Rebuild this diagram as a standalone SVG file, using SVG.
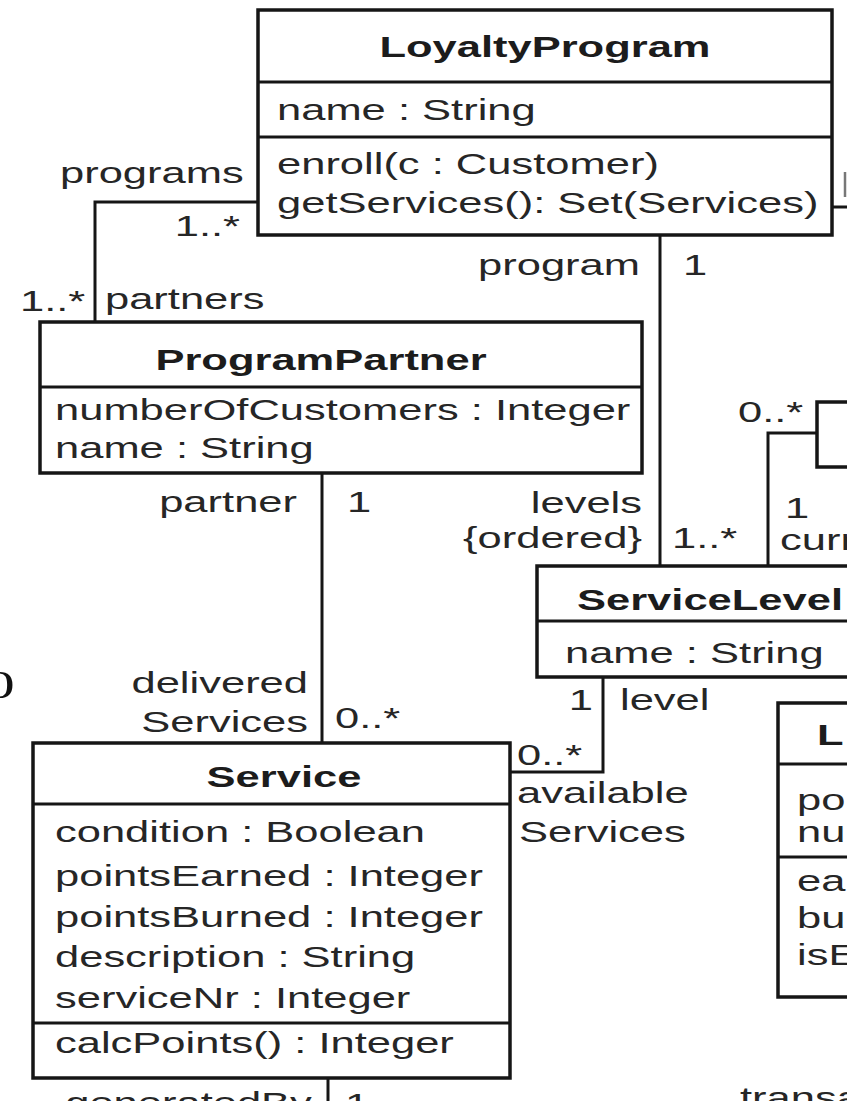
<svg xmlns="http://www.w3.org/2000/svg" width="860" height="1101" viewBox="0 0 860 1101">
  <defs>
    <style>
      .box { fill: #ffffff; stroke: #161616; stroke-width: 3.5; }
      .div { stroke: #161616; stroke-width: 3; }
      .wire { fill: none; stroke: #161616; stroke-width: 3; }
      text { font-family: "Liberation Sans", Arial, sans-serif; font-size: 30px; fill: #262626;
             transform-box: fill-box; transform-origin: 0 0; transform: scaleX(1.45); }
      .b { font-weight: bold; fill: #1c1c1c; }
      .mid { text-anchor: middle; transform-origin: 50% 0; }
      .end { text-anchor: end; transform-origin: 100% 0; }
      .serif { font-family: "Liberation Serif", "Times New Roman", serif; font-size: 41px; fill: #111; }
    </style>
    <clipPath id="page">
      <rect x="0" y="0" width="847" height="1101"/>
    </clipPath>
  </defs>

  <rect x="0" y="0" width="860" height="1101" fill="#ffffff"/>

  <g clip-path="url(#page)">
    <!-- associations and their end labels -->
    <g id="connectors">
      <polyline class="wire" points="258,202 95,202 95,322"/>
      <line class="wire" x1="660" y1="235" x2="660" y2="566"/>
      <line class="wire" x1="322" y1="473" x2="322" y2="743"/>
      <polyline class="wire" points="603,677 603,772 510,772"/>
      <polyline class="wire" points="817,433 768,433 768,566"/>
      <line class="wire" x1="832" y1="207" x2="847" y2="207"/>
      <line x1="845" y1="172" x2="845" y2="197" stroke="#777" stroke-width="2.5"/>
      <line class="wire" x1="328" y1="1078" x2="328" y2="1101"/>

      <text x="60" y="183">programs</text>
      <text class="end" x="240" y="236">1..*</text>
      <text x="20" y="311">1..*</text>
      <text x="105" y="309">partners</text>

      <text class="end" x="640" y="275">program</text>
      <text x="683" y="275">1</text>
      <text class="end" x="642" y="513">levels</text>
      <text class="end" x="642" y="548">{ordered}</text>
      <text x="672" y="548">1..*</text>

      <text x="738" y="422">0..*</text>
      <text x="785" y="518">1</text>
      <text x="780" y="550">curr</text>

      <text class="end" x="297" y="512">partner</text>
      <text x="347" y="512">1</text>
      <text class="end" x="308" y="693">delivered</text>
      <text class="end" x="308" y="732">Services</text>
      <text x="335" y="728">0..*</text>

      <text class="end" x="593" y="710">1</text>
      <text x="620" y="710">level</text>
      <text x="517" y="765">0..*</text>
      <text x="517" y="803">available</text>
      <text x="519" y="842">Services</text>

      <text class="end" x="312" y="1113">generatedBy</text>
      <text x="345" y="1114">1</text>
      <text x="740" y="1108">transac</text>

      <text class="serif" x="-15" y="698">0</text>
    </g>

    <g id="LoyaltyProgram">
      <rect class="box" x="258" y="10" width="574" height="225"/>
      <line class="div" x1="258" y1="82" x2="832" y2="82"/>
      <line class="div" x1="258" y1="137" x2="832" y2="137"/>
      <text class="b mid" x="545" y="57">LoyaltyProgram</text>
      <text x="277" y="120">name : String</text>
      <text x="277" y="174">enroll(c : Customer)</text>
      <text x="277" y="213">getServices(): Set(Services)</text>
    </g>

    <g id="ProgramPartner">
      <rect class="box" x="40" y="322" width="602" height="151"/>
      <line class="div" x1="40" y1="387" x2="642" y2="387"/>
      <text class="b mid" x="321" y="370">ProgramPartner</text>
      <text x="55" y="420">numberOfCustomers : Integer</text>
      <text x="55" y="458">name : String</text>
    </g>

    <g id="Membership">
      <rect class="box" x="817" y="402" width="60" height="65"/>
    </g>

    <g id="ServiceLevel">
      <rect class="box" x="537" y="566" width="330" height="111"/>
      <line class="div" x1="537" y1="621" x2="867" y2="621"/>
      <text class="b" x="577" y="610">ServiceLevel</text>
      <text x="565" y="663">name : String</text>
    </g>

    <g id="Service">
      <rect class="box" x="33" y="743" width="477" height="335"/>
      <line class="div" x1="33" y1="804" x2="510" y2="804"/>
      <line class="div" x1="33" y1="1023" x2="510" y2="1023"/>
      <text class="b mid" x="284" y="787">Service</text>
      <text x="55" y="842">condition : Boolean</text>
      <text x="55" y="886">pointsEarned : Integer</text>
      <text x="55" y="927">pointsBurned : Integer</text>
      <text x="55" y="967">description : String</text>
      <text x="55" y="1008">serviceNr : Integer</text>
      <text x="55" y="1053">calcPoints() : Integer</text>
    </g>

    <g id="LoyaltyAccount">
      <rect class="box" x="778" y="703" width="100" height="294"/>
      <line class="div" x1="778" y1="764" x2="878" y2="764"/>
      <line class="div" x1="778" y1="857" x2="878" y2="857"/>
      <text class="b" x="817" y="745">L</text>
      <text x="797" y="810">po</text>
      <text x="797" y="842">nu</text>
      <text x="797" y="891">ea</text>
      <text x="797" y="928">bu</text>
      <text x="797" y="965">isE</text>
    </g>
  </g>
</svg>
